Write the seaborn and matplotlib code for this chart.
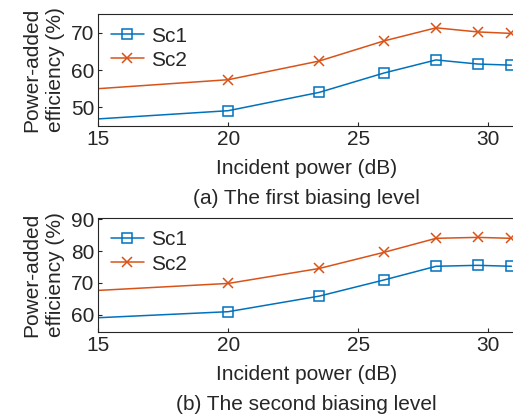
import matplotlib
matplotlib.use("Agg")
import matplotlib.pyplot as plt
import seaborn as sns
import pandas as pd

sns.set_theme(style="white")
plt.rcParams['font.family'] = ['Liberation Sans', 'DejaVu Sans']

x_power = [15, 20, 23.5, 26, 28, 29.6, 30.9]
sc1_a = [46.9, 49.1, 54.0, 59.2, 62.7, 61.6, 61.3]
sc2_a = [55.0, 57.4, 62.4, 67.8, 71.3, 70.2, 69.8]
sc1_b = [59.0, 60.9, 65.8, 70.9, 75.2, 75.5, 75.2]
sc2_b = [67.6, 69.8, 74.5, 79.6, 84.0, 84.3, 84.0]
series_names = ["Sc1", "Sc2"]
captions = ["(a) The first biasing level", "(b) The second biasing level"]
xticks = [15, 20, 25, 30]
yticks_a = [50, 60, 70]
yticks_b = [60, 70, 80, 90]

blue = "#0072BD"
orange = "#D95319"

W, H = 513, 416
fig = plt.figure(figsize=(W / 100, H / 100), dpi=100)

def px_axes(l, r, t, b):
    return fig.add_axes([l / W, 1 - b / H, (r - l) / W, (b - t) / H])

ax1 = px_axes(98.3, 514, 14, 126)
ax2 = px_axes(98.3, 514, 218, 331.7)

panels = [
    (ax1, sc1_a, sc2_a, (45, 75), yticks_a, captions[0]),
    (ax2, sc1_b, sc2_b, (54.6, 90.4), yticks_b, captions[1]),
]

fs = 15
tc = "#262626"
for ax, s1, s2, ylim, yt, cap in panels:
    df = pd.DataFrame({"x": x_power * 2,
                       "y": s1 + s2,
                       "series": [series_names[0]] * len(s1) + [series_names[1]] * len(s2)})
    d1 = df[df.series == "Sc1"]
    d2 = df[df.series == "Sc2"]
    mk = list(range(1, len(x_power)))
    sns.lineplot(data=d1, x="x", y="y", ax=ax, color=blue, marker="s", markersize=6.5,
                 markerfacecolor="none", markeredgecolor=blue, markeredgewidth=1.1,
                 linewidth=1.1, label="Sc1", markevery=mk)
    sns.lineplot(data=d2, x="x", y="y", ax=ax, color=orange, marker="x", markersize=7,
                 markeredgecolor=orange, markeredgewidth=1.1, linewidth=1.1,
                 label="Sc2", markevery=mk)
    ax.set_xlim(15, 31)
    ax.set_ylim(*ylim)
    ax.set_xticks(xticks)
    ax.set_yticks(yt)
    ax.tick_params(direction="in", length=3, width=0.8, labelsize=fs, colors=tc,
                   pad=3, top=False, right=False, bottom=True, left=True)
    for sp in ["left", "bottom", "top"]:
        ax.spines[sp].set_color(tc)
        ax.spines[sp].set_linewidth(0.8)
    ax.spines["right"].set_visible(False)
    ax.set_xlabel("Incident power (dB)", fontsize=fs, color=tc, labelpad=7)
    ax.set_ylabel("Power-added\nefficiency (%)", fontsize=fs, color=tc,
                  labelpad=4, linespacing=1.35)
    leg = ax.legend(loc="upper left", frameon=False, fontsize=fs, handlelength=1.6,
                    borderaxespad=0.2, labelspacing=0.25, handletextpad=0.35)
    for t in leg.get_texts():
        t.set_color(tc)

fig.text(306 / W, 1 - 199 / H, captions[0], ha="center", va="center", fontsize=fs, color=tc)
fig.text(306 / W, 1 - 404 / H, captions[1], ha="center", va="center", fontsize=fs, color=tc)

fig.savefig("out.png", dpi=100)
